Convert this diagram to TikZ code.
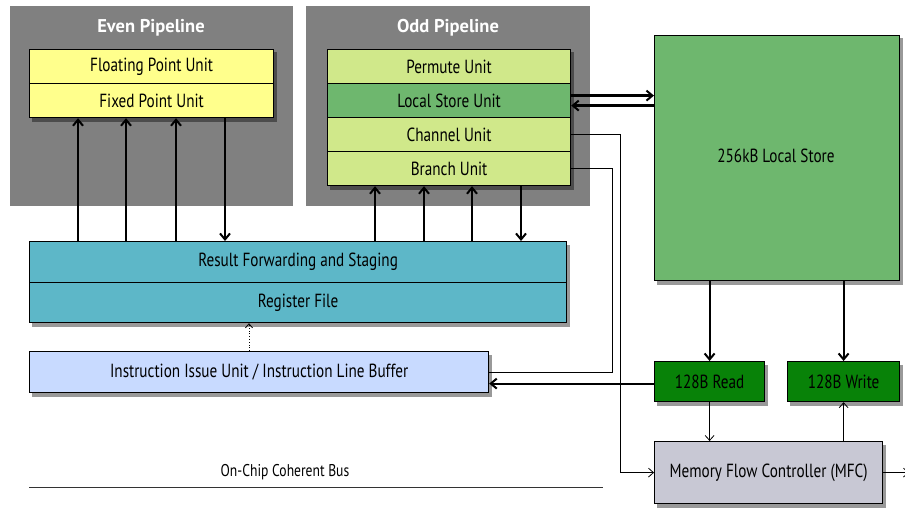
\documentclass[tikz,border=0pt]{standalone}
\usepackage{fontspec}
\setmainfont[FakeStretch=0.8]{PT Sans}
\newfontfamily\titlefont{PT Sans}
\usetikzlibrary{arrows.meta,fit,shadows}
\definecolor{pipegray}{RGB}{128,128,128}
\definecolor{unityel}{RGB}{255,255,140}
\definecolor{unitgrn}{RGB}{208,232,138}
\definecolor{lsgrn}{RGB}{110,183,110}
\definecolor{rfteal}{RGB}{93,183,200}
\definecolor{iublue}{RGB}{200,218,255}
\definecolor{dkgrn}{RGB}{8,130,8}
\definecolor{mfcgray}{RGB}{200,200,212}
\pgfdeclarelayer{back}\pgfdeclarelayer{shad}
\pgfsetlayers{back,shad,main}
\tikzset{
  box/.style={draw=black, line width=1.2pt, anchor=north west, inner sep=0pt,
    font=\fontsize{19}{21}\selectfont},
  pipe/.style={fill=pipegray, draw=none, anchor=north west, inner sep=0pt},
  ptitle/.style={text=white, font=\titlefont\fontsize{18.5}{20}\selectfont\bfseries},
  shadowbox/.style={draw=none, inner sep=0pt,
    drop shadow={shadow xshift=2.5pt, shadow yshift=-3.5pt, opacity=0.4, fill=black}},
  thickarr/.style={line width=2.2pt, -{Straight Barb[length=6pt,width=10pt,line width=2pt]}},
  thinarr/.style={line width=0.8pt, -{Straight Barb[length=5pt,width=9pt,line width=0.8pt]}},
  thinline/.style={line width=0.8pt},
}
\begin{document}
\begin{tikzpicture}[x=1pt,y=-1pt]
\useasboundingbox (0,0) rectangle (905,508);
% pipelines
\begin{pgfonlayer}{back}
\fill[white] (0,0) rectangle (905,508);
\node[pipe, minimum width=283pt, minimum height=200pt] (even) at (10,6) {};
\node[pipe, minimum width=284pt, minimum height=200pt] (odd) at (306,6) {};
\end{pgfonlayer}
\node[ptitle] (eventitle) at (151,28) {Even Pipeline};
\node[ptitle] (oddtitle) at (448,28) {Odd Pipeline};
% even units
\node[box, fill=unityel, minimum width=244pt, minimum height=34pt] (fpu) at (29,49) {Floating Point Unit};
\node[box, fill=unityel, minimum width=244pt, minimum height=34pt] (fxu) at (29,83) {Fixed Point Unit};
% odd units
\node[box, fill=unitgrn, minimum width=243pt, minimum height=34pt] (pmu) at (327,49) {Permute Unit};
\node[box, fill=lsgrn, minimum width=243pt, minimum height=34pt] (lsu) at (327,83) {Local Store Unit};
\node[box, fill=unitgrn, minimum width=243pt, minimum height=34pt] (chu) at (327,117) {Channel Unit};
\node[box, fill=unitgrn, minimum width=243pt, minimum height=34pt] (bru) at (327,151) {Branch Unit};
% local store
\node[box, fill=lsgrn, minimum width=245pt, minimum height=245pt] (ls) at (654,35) {};
\node (lslbl) at (776,156) {\fontsize{19}{21}\selectfont 256kB Local Store};
% register file
\node[box, fill=rfteal, minimum width=537pt, minimum height=41pt] (rfs) at (29,241) {Result Forwarding and Staging};
\node[box, fill=rfteal, minimum width=537pt, minimum height=40pt] (rf) at (29,282) {Register File};
% instruction issue
\node[box, fill=iublue, minimum width=459pt, minimum height=41pt] (iiu) at (29,351) {Instruction Issue Unit / Instruction Line Buffer};
% read/write
\node[box, fill=dkgrn, minimum width=110pt, minimum height=40pt] (rd) at (654,361) {128B Read};
\node[box, fill=dkgrn, minimum width=112pt, minimum height=40pt] (wr) at (787,361) {128B Write};
% MFC
\node[box, fill=mfcgray, minimum width=228pt, minimum height=62pt] (mfc) at (654,441) {Memory Flow Controller (MFC)};
% shadows
\begin{pgfonlayer}{shad}
\node[shadowbox, fit=(fpu)(fxu)] {};
\node[shadowbox, fit=(pmu)(bru)] {};
\node[shadowbox, fit=(ls)] {};
\node[shadowbox, fit=(rfs)(rf)] {};
\node[shadowbox, fit=(iiu)] {};
\node[shadowbox, fit=(rd)] {};
\node[shadowbox, fit=(wr)] {};
\node[shadowbox, fit=(mfc)] {};
\end{pgfonlayer}
% bus
\coordinate (busL) at (29,487);
\coordinate (busR) at (603,487);
\draw[line width=1pt, black!80] (busL) -- (busR);
\node (buslbl) at (285,472) {\fontsize{17}{19}\selectfont On-Chip Coherent Bus};
% even pipeline arrows
\draw[thickarr] (78,0 |- rfs.north) -- (78,0 |- fxu.south);
\draw[thickarr] (126,0 |- rfs.north) -- (126,0 |- fxu.south);
\draw[thickarr] (176,0 |- rfs.north) -- (176,0 |- fxu.south);
\draw[thickarr] (225,0 |- fxu.south) -- (225,0 |- rfs.north);
% odd pipeline arrows
\draw[thickarr] (375,0 |- rfs.north) -- (375,0 |- bru.south);
\draw[thickarr] (424,0 |- rfs.north) -- (424,0 |- bru.south);
\draw[thickarr] (472,0 |- rfs.north) -- (472,0 |- bru.south);
\draw[thickarr] (521,0 |- bru.south) -- (521,0 |- rfs.north);
% LSU <-> LS
\draw[thickarr] ([yshift=5pt]lsu.east) -- ([yshift=5pt]lsu.east -| ls.west);
\draw[thickarr] ([yshift=-5pt]lsu.east -| ls.west) -- ([yshift=-5pt]lsu.east);
% channel -> MFC
\draw[thinarr] (chu.east) -- ++(49,0) |- (mfc.west);
% branch -> IIU
\draw[thinline] (bru.east) -- ++(41,0) |- (iiu.east);
% read -> IIU
\draw[thickarr] ([yshift=-2pt]rd.west) -- ([yshift=-2pt]rd.west -| iiu.east);
% dotted IIU -> RF
\draw[line width=0.8pt, dotted, -{Straight Barb[length=4pt,width=7pt,line width=0.8pt]}] (249,0 |- iiu.north) -- (249,0 |- rf.south);
% LS -> read/write
\draw[thickarr] (rd.north |- ls.south) -- (rd.north);
\draw[thickarr] (wr.north |- ls.south) -- (wr.north);
% read -> MFC, MFC -> write
\draw[thinarr] (rd.south) -- (rd.south |- mfc.north);
\draw[thinarr] (wr.south |- mfc.north) -- (wr.south);
% MFC out
\coordinate (mfcout) at (909,0 |- mfc.east);
\draw[thinarr] (mfc.east) -- (mfcout);
\end{tikzpicture}
\end{document}
